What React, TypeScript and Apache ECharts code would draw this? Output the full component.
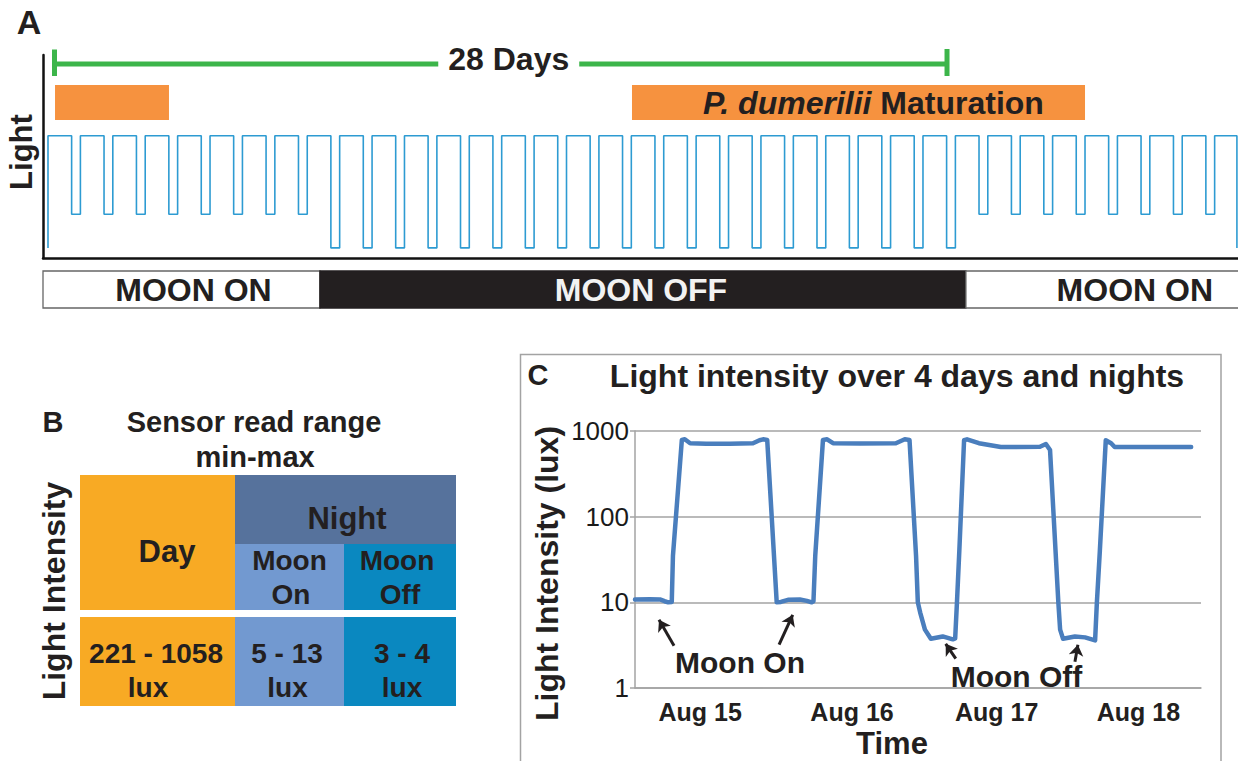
import React, { useEffect, useRef } from 'react';
import * as echarts from 'echarts';

const FONT = '"Liberation Sans", Arial, Helvetica, sans-serif';
const INK = '#231f20';

// ---------------- Panel A data ----------------
// one entry per 24 h cycle: the kind of night that follows the day
const nightTypes: string[] = [
  'on', 'on', 'on', 'on', 'on', 'on', 'on', 'on',
  'off', 'off', 'off', 'off', 'off', 'off', 'off', 'off', 'off', 'off',
  'off', 'off', 'off', 'off', 'off', 'off', 'off', 'off', 'off', 'off',
  'on', 'on', 'on', 'on', 'on', 'on', 'on', 'on',
];
const lightLevel: Record<string, number> = { day: 1, on: 0.3, off: 0 };
const dayHours = 17.5;
const cycleHours = 24;
const recordEndHour = 880.5;
const aMin = -3.7;
const aMax = 881.3;

const moonLabels = ['MOON ON', 'MOON OFF', 'MOON ON'];
const moonStart = [-3.7, 201.4, 679.8];
const moonEnd = [201.4, 679.8, 930];

const maturationLabels = ['', 'P. dumerilii Maturation'];
const maturationStart = [5.2, 432.5];
const maturationEnd = [89.6, 768];

const cycleLabel = '28 Days';
const cycleStart = [4.8];
const cycleEnd = [665.8];

// ---------------- Panel B data ----------------
const nightHeader = 'Night';
const dayHeader = 'Day';
const moonHeaders = [['Moon', 'On'], ['Moon', 'Off']];
const rangeLines = [['221 - 1058', 'lux'], ['5 - 13', 'lux'], ['3 - 4', 'lux']];

// ---------------- Panel C data ----------------
const cHours = [0, 2.5, 4.2, 5.0, 5.6, 6.2, 6.4, 7.9, 8.4, 9.3, 12, 16, 19.9, 21.0, 21.6, 22.3, 23.9, 24.6, 25.8, 27.8, 29.0, 29.8, 30.1, 30.4, 31.7, 32.4, 33.4, 38, 44.0, 45.5, 46.3, 47.4, 47.7, 48.1, 48.9, 49.9, 51.9, 53.6, 54.0, 54.3, 54.7, 55.5, 56.0, 58.0, 61.7, 68.3, 69.3, 70.0, 71.4, 71.7, 72.2, 74.2, 75.9, 77.6, 77.9, 78.4, 79.4, 80.3, 80.9, 93.8];
const cLux = [10.8, 10.9, 10.8, 10.3, 10.0, 10.1, 35, 785, 800, 720, 710, 712, 720, 780, 800, 785, 10.0, 10.1, 10.7, 10.8, 10.4, 10.0, 10.3, 35, 785, 800, 720, 715, 720, 800, 785, 35, 10, 7.6, 4.8, 3.75, 4.0, 3.7, 3.8, 10, 40, 780, 800, 720, 650, 655, 705, 600, 10, 4.8, 3.75, 4.0, 3.9, 3.6, 10, 40, 780, 720, 650, 650];
const augLabels = ['Aug 15', 'Aug 16', 'Aug 17', 'Aug 18'];
const augHours = [11, 36.6, 61, 84.9];
const cMaxHour = 95.46;
const arrowTails = [[6.58, 3.11], [24.3, 3.2], [54.1, 2.2], [74.2, 2.03]];
const arrowHeads = [[4.05, 6.26], [26.6, 7.16], [52.4, 3.28], [74.7, 3.2]];

// ---------------- colours ----------------
const C_WAVE = '#2d9bd2';
const C_ORANGE = '#f6923f';
const C_GREEN = '#3cb54a';
const C_DAY = '#f8aa24';
const C_NIGHT = '#56729c';
const C_MOONON = '#7299d0';
const C_MOONOFF = '#0a88c0';
const C_LINE = '#4a7ebd';
const C_GRID = '#a3a3a3';

function font(size: number, weight = 'bold', style = 'normal') {
  return `${style} ${weight} ${size}px ${FONT}`;
}

function txt(text: string, x: number, y: number, size: number, opts: any = {}) {
  return {
    type: 'text',
    x,
    y,
    rotation: opts.rotation || 0,
    z: 20,
    silent: true,
    style: {
      text,
      fill: opts.fill || INK,
      font: font(size, opts.weight || 'bold'),
      textAlign: opts.align || 'center',
      textVerticalAlign: 'middle',
    },
  };
}

function buildWave(): number[][] {
  const pts: number[][] = [[0, lightLevel.off]];
  nightTypes.forEach((kind, k) => {
    const t0 = k * cycleHours;
    pts.push([t0, lightLevel.day], [t0 + dayHours, lightLevel.day], [t0 + dayHours, lightLevel[kind]], [t0 + cycleHours, lightLevel[kind]]);
  });
  const last = nightTypes.length * cycleHours;
  pts.push([last, lightLevel.day], [recordEndHour, lightLevel.day], [recordEndHour, lightLevel.off]);
  return pts;
}

function buildOption(): any {
  const MOON_TOP = 271;
  const MOON_H = 37;
  const moonDx = [12, -2, 0];
  const MAT_TOP = 85;
  const MAT_H = 35;
  const matDx = [0, 15];
  const BR_Y = 64;

  // table geometry (panel B)
  const TX = [80, 235, 344, 456];
  const TY = { top: 475, night: 544, row1: 610, row2: 617, bot: 706 };
  const rect = (x0: number, y0: number, x1: number, y1: number, fill: string) => ({
    type: 'rect', z: 5, silent: true,
    shape: { x: x0, y: y0, width: x1 - x0, height: y1 - y0 },
    style: { fill },
  });
  const headPos = [[289.5, 291], [397, 400]];
  const rangePos = [[156, 148], [287, 287.5], [402, 402]];

  const graphic: any[] = [
    // panel labels
    txt('A', 29, 22, 34),
    txt('Light', 21, 152, 31, { rotation: Math.PI / 2 }),
    txt('B', 53, 422, 29),
    txt('Sensor read range', 254, 422, 29),
    txt('min-max', 255, 457, 29),
    txt('Light Intensity', 54, 591, 32, { rotation: Math.PI / 2 }),
    // table
    rect(TX[0], TY.top, TX[1], TY.row1, C_DAY),
    rect(TX[1], TY.top, TX[3], TY.night, C_NIGHT),
    rect(TX[1], TY.night, TX[2], TY.row1, C_MOONON),
    rect(TX[2], TY.night, TX[3], TY.row1, C_MOONOFF),
    rect(TX[0], TY.row2, TX[1], TY.bot, C_DAY),
    rect(TX[1], TY.row2, TX[2], TY.bot, C_MOONON),
    rect(TX[2], TY.row2, TX[3], TY.bot, C_MOONOFF),
    txt(dayHeader, 167, 551, 31),
    txt(nightHeader, 347, 518, 31),
    ...moonHeaders.flatMap((lines, i) => [
      txt(lines[0], headPos[i][0], 560, 28),
      txt(lines[1], headPos[i][1], 594.5, 28),
    ]),
    ...rangeLines.flatMap((lines, i) => [
      txt(lines[0], rangePos[i][0], 653, 28),
      txt(lines[1], rangePos[i][1], 687, 28),
    ]),
    // panel C frame and texts
    {
      type: 'rect', z: 1, silent: true,
      shape: { x: 520.5, y: 354.5, width: 700.5, height: 440 },
      style: { fill: 'none', stroke: C_GRID, lineWidth: 1.5 },
    },
    txt('C', 538, 375, 29),
    txt('Light intensity over 4 days and nights', 897, 376, 32),
    txt('Light Intensity (lux)', 547, 573.5, 32, { rotation: Math.PI / 2 }),
    txt('Time', 892, 743, 31),
    txt('Moon On', 740, 662.5, 30),
    txt('Moon Off', 1016.5, 676, 30),
  ];

  return {
    animation: false,
    backgroundColor: '#fff',
    textStyle: { fontFamily: FONT },
    grid: [
      { left: 43, top: 55, width: 1195, height: 203 },
      { left: 635, top: 431, width: 566, height: 257 },
    ],
    xAxis: [
      {
        gridIndex: 0, type: 'value', min: aMin, max: aMax,
        axisLine: { show: true, onZero: false, lineStyle: { color: '#111', width: 2.5 } },
        axisTick: { show: false }, axisLabel: { show: false }, splitLine: { show: false },
      },
      {
        gridIndex: 1, type: 'value', min: 0, max: cMaxHour,
        axisLine: { show: true, onZero: false, lineStyle: { color: C_GRID, width: 1.5 } },
        axisTick: { show: false },
        splitLine: { show: false },
        axisLabel: {
          show: true,
          customValues: augHours,
          formatter: (v: number) => {
            const i = augHours.findIndex((h) => Math.abs(h - v) < 1e-6);
            return i >= 0 ? augLabels[i] : '';
          },
          color: INK, fontWeight: 'bold', fontSize: 25, fontFamily: FONT, margin: 11,
        },
      },
    ],
    yAxis: [
      {
        gridIndex: 0, type: 'value', min: -0.09, max: 1.72,
        axisLine: { show: true, onZero: false, lineStyle: { color: '#111', width: 2.5 } },
        axisTick: { show: false }, axisLabel: { show: false }, splitLine: { show: false },
      },
      {
        gridIndex: 1, type: 'log', logBase: 10, min: 1, max: 1000,
        axisLine: { show: true, onZero: false, lineStyle: { color: C_GRID, width: 1.5 } },
        axisTick: { show: true, length: 5, lineStyle: { color: C_GRID, width: 1.5 } },
        splitLine: { show: true, lineStyle: { color: C_GRID, width: 1.5 } },
        axisLabel: {
          color: '#1a1a1a', fontSize: 26, fontFamily: FONT, margin: 6,
          formatter: (v: number) => String(Math.round(v)),
        },
      },
    ],
    series: [
      {
        type: 'line', xAxisIndex: 0, yAxisIndex: 0,
        data: buildWave(), showSymbol: false, silent: true,
        lineStyle: { color: C_WAVE, width: 1.6 },
        z: 3,
      },
      {
        type: 'custom', xAxisIndex: 0, yAxisIndex: 0, silent: true, z: 4,
        encode: { x: [0, 1], y: 2 },
        data: moonStart.map((s, i) => [s, moonEnd[i], 0]),
        renderItem: (params: any, api: any) => {
          const i = params.dataIndex;
          const x0 = api.coord([moonStart[i], 0])[0];
          const x1 = api.coord([moonEnd[i], 0])[0];
          const dark = moonLabels[i] === 'MOON OFF';
          return {
            type: 'group',
            children: [
              {
                type: 'rect',
                shape: { x: x0, y: MOON_TOP, width: x1 - x0, height: MOON_H },
                style: { fill: dark ? INK : '#fff', stroke: dark ? INK : '#666', lineWidth: 1.3 },
              },
              {
                type: 'text',
                x: (x0 + x1) / 2 + moonDx[i],
                y: MOON_TOP + MOON_H / 2,
                style: {
                  text: moonLabels[i], fill: dark ? '#f2f2f2' : INK, font: font(32),
                  textAlign: 'center', textVerticalAlign: 'middle',
                },
              },
            ],
          };
        },
      },
      {
        type: 'custom', xAxisIndex: 0, yAxisIndex: 0, silent: true, z: 4,
        encode: { x: [0, 1], y: 2 },
        data: maturationStart.map((s, i) => [s, maturationEnd[i], 0]),
        renderItem: (params: any, api: any) => {
          const i = params.dataIndex;
          const x0 = api.coord([maturationStart[i], 0])[0];
          const x1 = api.coord([maturationEnd[i], 0])[0];
          const label = maturationLabels[i];
          const children: any[] = [
            { type: 'rect', shape: { x: x0, y: MAT_TOP, width: x1 - x0, height: MAT_H }, style: { fill: C_ORANGE } },
          ];
          if (label) {
            const cut = label.indexOf(' Maturation');
            children.push({
              type: 'text',
              x: (x0 + x1) / 2 + matDx[i],
              y: MAT_TOP + MAT_H / 2,
              style: {
                text: `{it|${label.slice(0, cut)}} Maturation`,
                fill: INK, font: font(32),
                textAlign: 'center', textVerticalAlign: 'middle',
                rich: { it: { fontStyle: 'italic', fontWeight: 'bold', fontSize: 32, fontFamily: FONT, fill: INK } },
              },
            });
          }
          return { type: 'group', children };
        },
      },
      {
        type: 'custom', xAxisIndex: 0, yAxisIndex: 0, silent: true, z: 4,
        encode: { x: [0, 1], y: 2 },
        data: cycleStart.map((s, i) => [s, cycleEnd[i], 0]),
        renderItem: (params: any, api: any) => {
          const i = params.dataIndex;
          const x0 = api.coord([cycleStart[i], 0])[0];
          const x1 = api.coord([cycleEnd[i], 0])[0];
          const ls = { stroke: C_GREEN, lineWidth: 5 };
          return {
            type: 'group',
            children: [
              { type: 'line', shape: { x1: x0, y1: BR_Y, x2: x1, y2: BR_Y }, style: ls },
              { type: 'line', shape: { x1: x0, y1: 49.5, x2: x0, y2: 76 }, style: ls },
              { type: 'line', shape: { x1: x1, y1: 49, x2: x1, y2: 76 }, style: ls },
              {
                type: 'text', x: (x0 + x1) / 2 + 8, y: 59,
                style: {
                  text: cycleLabel, fill: INK, font: font(32),
                  textAlign: 'center', textVerticalAlign: 'middle',
                  backgroundColor: '#fff', padding: [2, 10],
                },
              },
            ],
          };
        },
      },
      {
        type: 'line', xAxisIndex: 1, yAxisIndex: 1,
        data: cHours.map((h, i) => [h, cLux[i]]),
        showSymbol: false, silent: true, z: 5,
        lineStyle: { color: C_LINE, width: 4.5, cap: 'round', join: 'round' },
        markLine: {
          silent: true,
          symbol: ['none', 'arrow'],
          symbolSize: 11,
          lineStyle: { color: INK, width: 3, type: 'solid' },
          label: { show: false },
          emphasis: { disabled: true },
          data: arrowTails.map((t, i) => [{ coord: t }, { coord: arrowHeads[i] }]),
        },
      },
    ],
    graphic,
  };
}

export default function App() {
  const ref = useRef<HTMLDivElement>(null);
  useEffect(() => {
    const chart = echarts.init(ref.current as HTMLDivElement, null, { renderer: 'svg' });
    chart.setOption(buildOption());
    return () => chart.dispose();
  }, []);
  return (
    <div
      ref={ref}
      style={{ position: 'fixed', left: 0, top: 0, width: 1238, height: 761, background: '#fff' }}
    />
  );
}
